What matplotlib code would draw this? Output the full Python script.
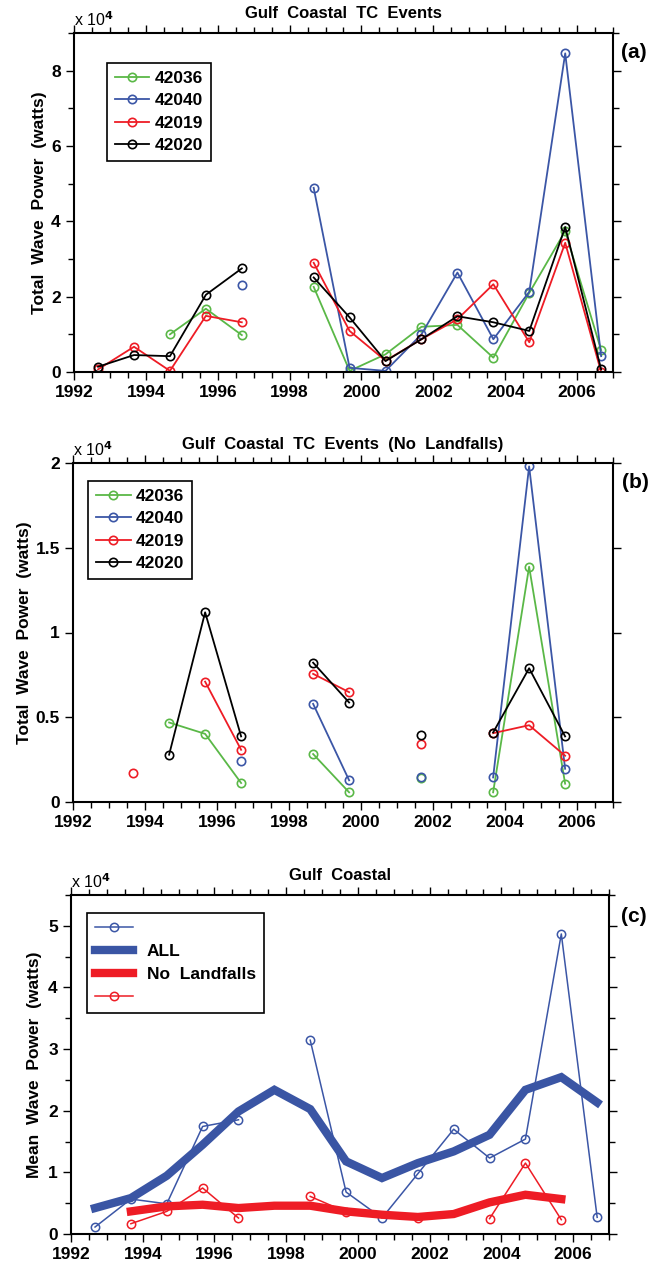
import numpy as np
import matplotlib
matplotlib.use('Agg')
import matplotlib.pyplot as plt
from matplotlib.ticker import MultipleLocator, StrMethodFormatter

# 字型設定
plt.rcParams['font.family'] = ['Liberation Sans', 'DejaVu Sans']
plt.rcParams['font.weight'] = 'bold'
plt.rcParams['axes.unicode_minus'] = False

nan = np.nan

# 颶風季節 (每年約 9 月) 的時間點
years = [1992.67, 1993.67, 1994.67, 1995.67, 1996.67, 1997.67, 1998.67, 1999.67,
         2000.67, 2001.67, 2002.67, 2003.67, 2004.67, 2005.67, 2006.67]

stations = ['42036', '42040', '42019', '42020']
station_colors = ['#5ab847', '#3b56a6', '#ee1c25', 'black']

# (a) 所有事件 總波浪能量 (x 10^4 watts)
all_42036 = [nan, nan, 1.0, 1.68, 0.98, nan, 2.26, 0.03, 0.47, 1.2, 1.25, 0.38, 2.1, 3.74, 0.58]
all_42040 = [nan, nan, nan, nan, 2.32, nan, 4.89, 0.11, 0.03, 1.0, 2.64, 0.87, 2.13, 8.46, 0.42]
all_42019 = [0.07, 0.67, 0.03, 1.49, 1.32, nan, 2.9, 1.09, 0.3, 0.87, 1.4, 2.33, 0.79, 3.43, 0.0]
all_42020 = [0.14, 0.45, 0.42, 2.05, 2.75, nan, 2.51, 1.45, 0.29, 0.87, 1.48, 1.32, 1.09, 3.85, 0.07]

# (b) 未登陸事件
nl_42036 = [nan, nan, 0.469, 0.402, 0.112, nan, 0.283, 0.057, nan, 0.141, nan, 0.057, 1.388, 0.108, nan]
nl_42040 = [nan, nan, nan, nan, 0.239, nan, 0.579, 0.128, nan, 0.145, nan, 0.145, 1.98, 0.196, nan]
nl_42019 = [nan, 0.171, nan, 0.71, 0.308, nan, 0.756, 0.648, nan, 0.343, nan, 0.406, 0.453, 0.273, nan]
nl_42020 = [nan, nan, 0.279, 1.119, 0.387, nan, 0.822, 0.587, nan, 0.393, nan, 0.41, 0.789, 0.387, nan]

# (c) 平均波浪能量
mean_all = [0.113, 0.567, 0.49, 1.745, 1.853, nan, 3.144, 0.68, 0.259, 0.978, 1.70, 1.232, 1.54, 4.868, 0.27]
smooth_all = [0.421, 0.583, 0.945, 1.448, 1.988, 2.339, 2.026, 1.178, 0.908, 1.15, 1.34, 1.61, 2.339, 2.545, 2.134]
smooth_nl = [nan, 0.367, 0.448, 0.475, 0.421, 0.459, 0.459, 0.367, 0.313, 0.276, 0.324, 0.513, 0.637, 0.567, nan]
mean_nl = [nan, 0.167, 0.367, 0.746, 0.259, nan, 0.61, 0.357, nan, 0.259, nan, 0.249, 1.151, 0.232, nan]

W, H = 660, 1266
fig = plt.figure(figsize=(W / 100, H / 100), dpi=100)


def px_axes(left, top, right, bottom):
    return fig.add_axes([left / W, 1 - bottom / H, (right - left) / W, (bottom - top) / H])


def style_axes(ax, ymax, ymajor, yminor, ylabel, ylab_x):
    ax.set_xlim(1992, 2007)
    ax.set_ylim(0, ymax)
    ax.xaxis.set_major_locator(MultipleLocator(2))
    ax.xaxis.set_minor_locator(MultipleLocator(0.5))
    ax.yaxis.set_major_locator(MultipleLocator(ymajor))
    if yminor:
        ax.yaxis.set_minor_locator(MultipleLocator(yminor))
    ax.yaxis.set_major_formatter(StrMethodFormatter('{x:g}'))
    ax.tick_params(which='both', direction='out', top=True, right=True,
                   width=1.0, labelsize=12.5, pad=4)
    ax.tick_params(which='major', length=5.5)
    ax.tick_params(which='minor', length=4.5)
    for lab in ax.get_xticklabels() + ax.get_yticklabels():
        lab.set_fontweight('bold')
    for sp in ax.spines.values():
        sp.set_linewidth(1.5)
    ax.set_ylabel(ylabel, fontsize=12.5, fontweight='bold')
    ax.yaxis.set_label_coords(ylab_x, 0.5)
    ax.text(0.0, 1.012, r'x 10$^4$', transform=ax.transAxes, ha='left', va='bottom',
            fontsize=11.5, fontweight='normal')


def station_legend(ax, x0, top):
    leg = ax.legend(loc='upper left', bbox_to_anchor=(x0, top), borderaxespad=0,
                    fancybox=False, edgecolor='black', framealpha=1,
                    prop={'size': 12.5, 'weight': 'bold'}, handlelength=2.0,
                    handletextpad=0.3, labelspacing=0.42, borderpad=0.45)
    leg.get_frame().set_linewidth(1.2)


# ---- (a) ----
ax1 = px_axes(74, 33, 613, 372)
for vals, name, c in zip([all_42036, all_42040, all_42019, all_42020], stations, station_colors):
    ax1.plot(years, vals, '-o', color=c, mfc='none', mec=c, ms=6, mew=1.2, lw=1.3, label=name)
style_axes(ax1, 9, 2, 1, 'Total  Wave  Power  (watts)', -0.05)
station_legend(ax1, 0.061, 0.912)

# ---- (b) ----
ax2 = px_axes(73, 463, 613, 802)
for vals, name, c in zip([nl_42036, nl_42040, nl_42019, nl_42020], stations, station_colors):
    ax2.plot(years, vals, '-o', color=c, mfc='none', mec=c, ms=6, mew=1.2, lw=1.3, label=name)
style_axes(ax2, 2, 0.5, None, 'Total  Wave  Power  (watts)', -0.076)
station_legend(ax2, 0.028, 0.947)

# ---- (c) ----
ax3 = px_axes(71, 895, 609, 1234)
h1, = ax3.plot(years, mean_all, '-o', color='#3b56a6', mfc='none', ms=6, mew=1.1, lw=1.1)
h2, = ax3.plot(years, smooth_all, '-', color='#3a55a4', lw=6, solid_joinstyle='miter')
h3, = ax3.plot(years, smooth_nl, '-', color='#ee1c25', lw=6, solid_joinstyle='miter')
h4, = ax3.plot(years, mean_nl, '-o', color='#ee1c25', mfc='none', ms=6, mew=1.1, lw=1.1)
style_axes(ax3, 5.5, 1, 0.5, 'Mean  Wave  Power  (watts)', -0.054)
leg = ax3.legend([h1, h2, h3, h4], ['', 'ALL', 'No  Landfalls', ''], loc='upper left',
                 bbox_to_anchor=(0.030, 0.946), borderaxespad=0, fancybox=False,
                 edgecolor='black', framealpha=1, prop={'size': 12.5, 'weight': 'bold'},
                 handlelength=2.2, handletextpad=0.8, labelspacing=0.45, borderpad=0.45)
leg.get_frame().set_linewidth(1.2)

# 標題與面板標記
fig.text(343 / W, 1 - 13 / H, 'Gulf  Coastal  TC  Events', ha='center', va='center',
         fontsize=12, fontweight='bold')
fig.text(343 / W, 1 - 444 / H, 'Gulf  Coastal  TC  Events  (No  Landfalls)', ha='center',
         va='center', fontsize=12, fontweight='bold')
fig.text(340 / W, 1 - 875 / H, 'Gulf  Coastal', ha='center', va='center',
         fontsize=12, fontweight='bold')
fig.text(621 / W, 1 - 53 / H, '(a)', ha='left', va='center', fontsize=15, fontweight='bold')
fig.text(622 / W, 1 - 483 / H, '(b)', ha='left', va='center', fontsize=15, fontweight='bold')
fig.text(621 / W, 1 - 917 / H, '(c)', ha='left', va='center', fontsize=15, fontweight='bold')

fig.savefig('out.png', dpi=100)
